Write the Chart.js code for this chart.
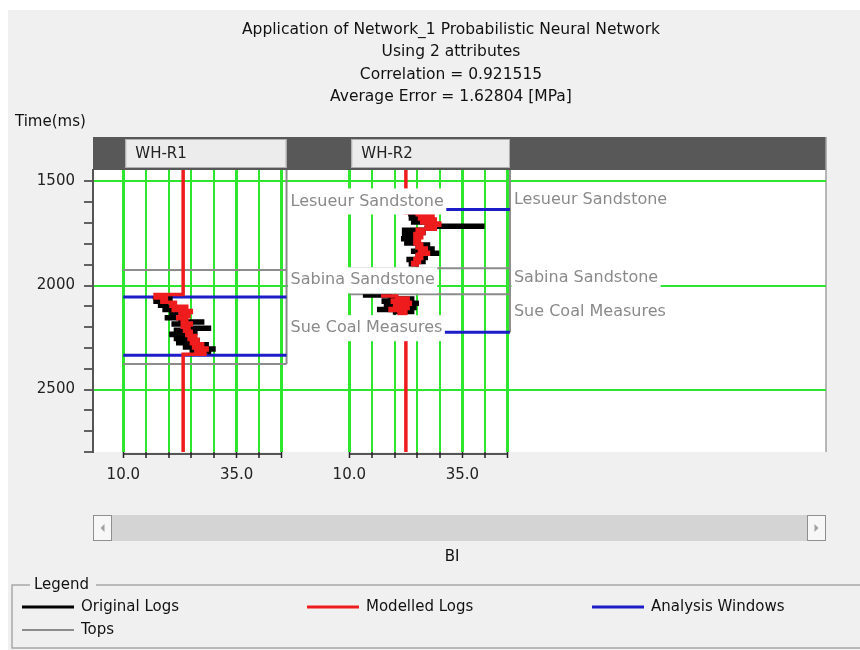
<!DOCTYPE html>
<html>
<head>
<meta charset="utf-8">
<title>Network_1 PNN application</title>
<script src="https://cdn.jsdelivr.net/npm/chart.js@4.4.1/dist/chart.umd.min.js"></script>
<style>
    body { margin: 0; background: #ffffff; }
    canvas { display: block; }
</style>
</head>
<body>
<canvas id="Chart-1" width="860" height="650"></canvas>
<script>
// axes
const timeRange = [1445, 2800];
const timeTicks = [1500, 1600, 1700, 1800, 1900, 2000, 2100, 2200, 2300, 2400, 2500, 2600, 2700, 2800];
const biTicks = [10, 15, 20, 25, 30, 35, 40, 45];
const biLabels = [10, 35];
const wellNames = ['WH-R1', 'WH-R2'];

// WH-R1 logs (time ms, BI)
const r1Time = [2060, 2070, 2080, 2090, 2100, 2110, 2120, 2130, 2140, 2150, 2160, 2170, 2180, 2190,
    2200, 2210, 2220, 2230, 2240, 2250, 2260, 2270, 2280, 2290, 2300, 2310, 2320, 2330];
const r1Original = [16.5, 20.5, 17, 19.5, 18, 21, 19, 22, 20.5, 23.5, 19.5, 22.5, 27.5, 21,
    24, 29, 21.5, 26, 20.5, 25.5, 21.5, 26.5, 22, 28.5, 23.5, 30, 25, 29];
const r1ModelTime = [1445, 2043, 2060, 2070, 2080, 2090, 2100, 2110, 2120, 2130, 2140, 2150, 2160, 2170,
    2180, 2190, 2200, 2210, 2220, 2230, 2240, 2250, 2260, 2270, 2280, 2290, 2300, 2310, 2320, 2330, 2345, 2800];
const r1Model = [23.2, 23.2, 17, 19.5, 18.5, 21.5, 20.5, 24, 21, 25, 22.5, 24.5, 22, 24,
    23, 25, 23, 24.5, 23.5, 25, 24, 26, 24.5, 26.5, 25, 27.5, 25.5, 28.5, 26, 28, 23.2, 23.2];

// WH-R2 logs
const r2Time = [1660, 1670, 1680, 1690, 1700, 1710, 1720, 1730, 1740, 1750, 1760, 1770, 1780, 1790,
    1800, 1810, 1820, 1830, 1840, 1850, 1860, 1870, 1880, 1890, 1900, 1910, 1980,
    2050, 2060, 2070, 2080, 2090, 2100, 2110, 2120, 2130, 2140];
const r2Original = [23, 27.5, 23.5, 26, 24, 28, 39.5, 27, 22, 26.5, 22, 25, 21.8, 24.5,
    22.5, 27.5, 25, 28.5, 24, 29.5, 25, 27, 23, 26.5, 23.5, 25, null,
    13, 19, 24, 17.5, 25, 18, 24.5, 16.5, 24, 20];
const r2ModelTime = [1445, 1650, 1660, 1670, 1680, 1690, 1700, 1710, 1720, 1730, 1740, 1750, 1760, 1770, 1780, 1790,
    1800, 1810, 1820, 1830, 1840, 1850, 1860, 1870, 1880, 1890, 1900, 1910, 1980,
    2050, 2060, 2070, 2080, 2090, 2100, 2110, 2120, 2130, 2140, 2150, 2800];
const r2Model = [22.5, 22.5, 25, 28.5, 25.5, 29, 26, 30, 27, 29, 25, 26.5, 24.5, 26, 24.5, 25.5,
    24.5, 26, 25, 27, 25.5, 27.5, 25, 26, 24.5, 25.5, 24, 25, null,
    17, 20.5, 23, 19.5, 23.5, 20, 23, 19, 22.5, 21, 22.5, 22.5];

// analysis windows and tops
const r1Window = [2055, 2335];
const r2Window = [1635, 2225];
const topNames = ['Lesueur Sandstone', 'Sabina Sandstone', 'Sue Coal Measures'];
const r1Tops = [null, 1925, 2377];
const r2Tops = [null, 1917, 2042];
const r1TopLabel = [1596, 1975, 2205];
const r2TopLabel = [1586, 1965, 2128];
const trackEdge = [46, 45.5];

const titleLines = ['Application of Network_1 Probabilistic Neural Network', 'Using 2 attributes',
    'Correlation = 0.921515', 'Average Error = 1.62804 [MPa]'];

// layout
const FONT = '"DejaVu Sans", Arial, sans-serif';
const GREEN = '#2ee62e';
const area = { left: 93, right: 826, top: 170, bottom: 452 };
const trackPx = [[123.3, 282], [349.3, 507.7]];

function trackScale(px) {
    const unit = (px[1] - px[0]) / (biTicks[biTicks.length - 1] - biTicks[0]);
    return {
        min: biTicks[0] - (px[0] - area.left) / unit,
        max: biTicks[0] + (area.right - px[0]) / unit
    };
}

function biAxis(i) {
    const r = trackScale(trackPx[i]);
    return {
        type: 'linear',
        axis: 'x',
        position: 'bottom',
        min: r.min,
        max: r.max,
        afterBuildTicks: s => { s.ticks = biTicks.map(v => ({ value: v })); },
        afterFit: s => { s.height = i === 0 ? 40 : 0; },
        border: { display: false },
        grid: {
            color: GREEN,
            lineWidth: c => (c.tick && [10, 35, 45].includes(c.tick.value)) ? 3 : 2,
            tickColor: '#222',
            tickLength: 6,
            tickWidth: 1.5
        },
        ticks: {
            autoSkip: false,
            maxRotation: 0,
            padding: 8,
            color: '#222',
            font: { family: FONT, size: 15 },
            callback: v => biLabels.includes(v) ? v.toFixed(1) : ''
        }
    };
}

function series(values, times) {
    return times.map((t, i) => ({ x: values[i], y: t }));
}

function hLines(times, from, to) {
    const pts = [];
    times.forEach(t => {
        if (t === null) return;
        pts.push({ x: from, y: t }, { x: to, y: t }, { x: null, y: t });
    });
    return pts;
}

function logSet(data, color, axis, order) {
    return {
        data: data, xAxisID: axis, yAxisID: 'y', order: order,
        showLine: true, stepped: true, spanGaps: false,
        borderColor: color, borderWidth: 3.5, pointRadius: 0
    };
}

function flatSet(data, color, width, axis, order) {
    return {
        data: data, xAxisID: axis, yAxisID: 'y', order: order,
        showLine: true, spanGaps: false,
        borderColor: color, borderWidth: width, pointRadius: 0
    };
}

const decor = {
    id: 'decor',
    afterLayout(chart) {
        const a = chart.scales.x1, b = chart.scales.x2;
        b.top = a.top;
        b.bottom = a.bottom;
        b.height = a.height;
    },
    beforeDraw(chart) {
        const ctx = chart.ctx, ca = chart.chartArea;
        ctx.save();
        ctx.fillStyle = '#ffffff';
        ctx.fillRect(0, 0, 860, 650);
        ctx.fillStyle = '#f0f0f0';
        ctx.fillRect(8, 10, 852, 640);
        ctx.fillStyle = '#ffffff';
        ctx.fillRect(ca.left, ca.top, ca.right - ca.left, ca.bottom - ca.top);
        // header band with well names
        ctx.fillStyle = '#585858';
        ctx.fillRect(ca.left, 137, ca.right - ca.left, ca.top - 137);
        ['x1', 'x2'].forEach((id, i) => {
            const s = chart.scales[id];
            const x0 = s.getPixelForValue(biTicks[0]) + 2;
            const x1 = s.getPixelForValue(trackEdge[i]);
            ctx.fillStyle = '#ececec';
            ctx.fillRect(x0, 139, x1 - x0, 29);
            ctx.strokeStyle = '#b0b0b0';
            ctx.lineWidth = 1;
            ctx.strokeRect(x0 + 0.5, 139.5, x1 - x0 - 1, 28);
            ctx.fillStyle = '#222';
            ctx.font = '15px ' + FONT;
            ctx.textBaseline = 'middle';
            ctx.textAlign = 'left';
            ctx.fillText(wellNames[i], x0 + 10, 154);
        });
        ctx.strokeStyle = '#a0a0a0';
        ctx.lineWidth = 1.5;
        ctx.beginPath();
        ctx.moveTo(ca.right, 137);
        ctx.lineTo(ca.right, ca.bottom);
        ctx.stroke();
        ctx.restore();
    },
    beforeDatasetsDraw(chart) {
        const ctx = chart.ctx, y = chart.scales.y;
        const ends = [Math.max(r1Tops[2], r1Window[1]), Math.max(r2Tops[2], r2Window[1])];
        ctx.save();
        ctx.strokeStyle = '#8c8c8c';
        ctx.lineWidth = 2;
        ['x1', 'x2'].forEach((id, i) => {
            const x = chart.scales[id].getPixelForValue(trackEdge[i]);
            ctx.beginPath();
            ctx.moveTo(x, chart.chartArea.top);
            ctx.lineTo(x, y.getPixelForValue(ends[i]));
            ctx.stroke();
        });
        ctx.restore();
    },
    afterDatasetsDraw(chart) {
        const ctx = chart.ctx, y = chart.scales.y;
        ctx.save();
        ctx.font = '16px ' + FONT;
        ctx.textBaseline = 'middle';
        ctx.textAlign = 'left';
        [r1TopLabel, r2TopLabel].forEach((times, i) => {
            const edge = chart.scales[i === 0 ? 'x1' : 'x2'].getPixelForValue(trackEdge[i]);
            times.forEach((t, k) => {
                const py = y.getPixelForValue(t);
                const w = ctx.measureText(topNames[k]).width;
                ctx.fillStyle = '#ffffff';
                ctx.fillRect(edge + 1.5, py - 13, w + 5, 26);
                ctx.fillStyle = '#8a8a8a';
                ctx.fillText(topNames[k], edge + 4, py);
            });
        });
        // BI axis base lines
        ctx.strokeStyle = '#222';
        ctx.lineWidth = 1.5;
        ['x1', 'x2'].forEach(id => {
            const s = chart.scales[id];
            ctx.beginPath();
            ctx.moveTo(s.getPixelForValue(biTicks[0]), chart.chartArea.bottom + 2);
            ctx.lineTo(s.getPixelForValue(biTicks[biTicks.length - 1]), chart.chartArea.bottom + 2);
            ctx.stroke();
        });
        ctx.restore();
    },
    afterDraw(chart) {
        const ctx = chart.ctx;
        ctx.save();
        ctx.fillStyle = '#111';
        ctx.font = '15.5px ' + FONT;
        ctx.textBaseline = 'middle';
        ctx.textAlign = 'center';
        titleLines.forEach((line, i) => ctx.fillText(line, 451, 30 + i * 22.3));
        ctx.font = '15px ' + FONT;
        ctx.textAlign = 'left';
        ctx.fillText('Time(ms)', 15, 122);
        ctx.textAlign = 'center';
        ctx.fillText('BI', 452, 557);

        // scroll bar
        ctx.fillStyle = '#d4d4d4';
        ctx.fillRect(93, 515, 733, 26);
        [93, 807].forEach((bx, i) => {
            ctx.fillStyle = '#f7f7f7';
            ctx.fillRect(bx, 515, 19, 26);
            ctx.strokeStyle = '#8f8f8f';
            ctx.lineWidth = 1;
            ctx.strokeRect(bx + 0.5, 515.5, 18, 25);
            ctx.fillStyle = '#a0a0a0';
            ctx.beginPath();
            const cx = bx + 9.5;
            if (i === 0) {
                ctx.moveTo(cx + 2, 524); ctx.lineTo(cx - 2, 528); ctx.lineTo(cx + 2, 532);
            } else {
                ctx.moveTo(cx - 2, 524); ctx.lineTo(cx + 2, 528); ctx.lineTo(cx - 2, 532);
            }
            ctx.closePath();
            ctx.fill();
        });

        // legend group box
        ctx.strokeStyle = '#a8a8a8';
        ctx.lineWidth = 1.5;
        ctx.beginPath();
        ctx.moveTo(30, 585); ctx.lineTo(12, 585); ctx.lineTo(12, 648); ctx.lineTo(860, 648);
        ctx.moveTo(96, 585); ctx.lineTo(860, 585);
        ctx.stroke();
        ctx.fillStyle = '#111';
        ctx.textAlign = 'left';
        ctx.fillText('Legend', 34, 585);
        const items = [
            ['Original Logs', '#000000', 22, 607, 3],
            ['Modelled Logs', '#ee1c1c', 307, 607, 3],
            ['Analysis Windows', '#1c1cc8', 592, 607, 3],
            ['Tops', '#8c8c8c', 22, 630, 2]
        ];
        items.forEach(([text, color, x, y, w]) => {
            ctx.strokeStyle = color;
            ctx.lineWidth = w;
            ctx.beginPath();
            ctx.moveTo(x, y);
            ctx.lineTo(x + 52, y);
            ctx.stroke();
            ctx.fillStyle = '#111';
            ctx.fillText(text, x + 59, y);
        });
        ctx.restore();
    }
};

new Chart(document.getElementById('Chart-1'), {
    type: 'scatter',
    data: {
        datasets: [
            logSet(series(r1Model, r1ModelTime), '#ee1c1c', 'x1', 1),
            logSet(series(r2Model, r2ModelTime), '#ee1c1c', 'x2', 1),
            logSet(series(r1Original, r1Time), '#000000', 'x1', 2),
            logSet(series(r2Original, r2Time), '#000000', 'x2', 2),
            flatSet(hLines(r1Window, biTicks[0], trackEdge[0]), '#1c1cc8', 3, 'x1', 3),
            flatSet(hLines(r2Window, biTicks[0], trackEdge[1]), '#1c1cc8', 3, 'x2', 3),
            flatSet(hLines(r1Tops, biTicks[0], trackEdge[0]), '#8c8c8c', 2, 'x1', 4),
            flatSet(hLines(r2Tops, biTicks[0], trackEdge[1]), '#8c8c8c', 2, 'x2', 4)
        ]
    },
    options: {
        responsive: false,
        animation: false,
        layout: {
            padding: { left: area.left - 60, right: 860 - area.right, top: area.top, bottom: 650 - area.bottom - 40 }
        },
        plugins: {
            legend: { display: false },
            tooltip: { enabled: false }
        },
        scales: {
            x1: biAxis(0),
            x2: biAxis(1),
            y: {
                type: 'linear',
                position: 'left',
                reverse: true,
                min: timeRange[0],
                max: timeRange[1],
                afterBuildTicks: s => { s.ticks = timeTicks.map(v => ({ value: v })); },
                afterFit: s => { s.width = 60; },
                border: { color: '#555', width: 2 },
                grid: {
                    color: c => (c.tick && c.tick.value % 500 === 0) ? GREEN : 'rgba(0,0,0,0)',
                    lineWidth: 2,
                    tickColor: '#333',
                    tickLength: 9,
                    tickWidth: 1.5
                },
                ticks: {
                    autoSkip: false,
                    padding: 9,
                    color: '#222',
                    font: { family: FONT, size: 15 },
                    callback: v => v % 500 === 0 ? String(v) : ''
                }
            }
        }
    },
    plugins: [decor]
});
</script>
</body>
</html>
